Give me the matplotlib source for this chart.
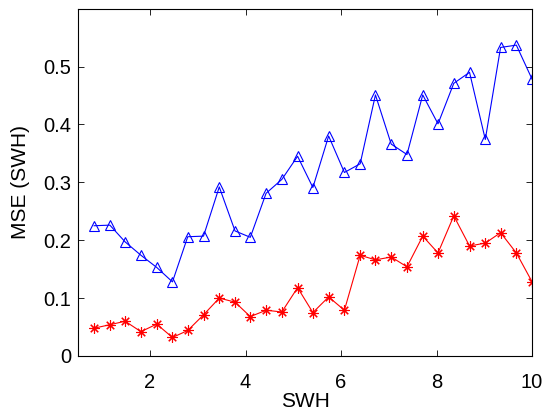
import matplotlib
matplotlib.use("Agg")
import matplotlib.pyplot as plt

# SWH bin positions (right edges of 29 bins between 0.5 and 10)
swh = [0.83, 1.16, 1.48, 1.81, 2.14, 2.47, 2.79, 3.12, 3.45, 3.78,
       4.10, 4.43, 4.76, 5.09, 5.41, 5.74, 6.07, 6.40, 6.72, 7.05,
       7.38, 7.71, 8.03, 8.36, 8.69, 9.02, 9.34, 9.67, 10.0]

mse_blue = [0.225, 0.226, 0.197, 0.174, 0.153, 0.128, 0.206, 0.207, 0.292, 0.216,
            0.205, 0.281, 0.305, 0.345, 0.291, 0.380, 0.317, 0.332, 0.451, 0.366,
            0.348, 0.451, 0.401, 0.471, 0.490, 0.374, 0.533, 0.537, 0.478]

mse_red = [0.048, 0.054, 0.060, 0.042, 0.055, 0.032, 0.044, 0.071, 0.100, 0.093,
           0.068, 0.079, 0.076, 0.118, 0.075, 0.102, 0.079, 0.174, 0.166, 0.171,
           0.154, 0.207, 0.178, 0.242, 0.190, 0.195, 0.213, 0.178, 0.128]

xticks = [2, 4, 6, 8, 10]
yticks = [0, 0.1, 0.2, 0.3, 0.4, 0.5]

plt.rcParams['font.family'] = ['Liberation Sans', 'DejaVu Sans']

fig = plt.figure(figsize=(5.48, 4.12), dpi=100)
ax = fig.add_axes([0.143, 0.136, 0.828, 0.843])

ax.plot(swh, mse_blue, color='#0000ff', lw=0.8, marker='^', markersize=7.5,
        markerfacecolor='none', markeredgecolor='#0000ff', markeredgewidth=0.8)
ax.plot(swh, mse_red, color='#ff0000', lw=0.8, marker=(8, 2, 0), markersize=7.5,
        markeredgecolor='#ff0000', markeredgewidth=0.8)

ax.set_xlim(0.5, 10)
ax.set_ylim(0, 0.6)
ax.set_xticks(xticks)
ax.set_yticks(yticks)
ax.set_yticklabels(['0', '0.1', '0.2', '0.3', '0.4', '0.5'])
ax.tick_params(direction='in', top=True, right=True, labelsize=14.5,
               length=4, width=0.6)
ax.tick_params(axis='x', pad=12)
ax.tick_params(axis='y', pad=5)
for s in ax.spines.values():
    s.set_linewidth(0.8)

ax.set_xlabel('SWH', fontsize=15, labelpad=0)
ax.set_ylabel('MSE (SWH)', fontsize=15, labelpad=10)

fig.savefig('out.png', dpi=100)
